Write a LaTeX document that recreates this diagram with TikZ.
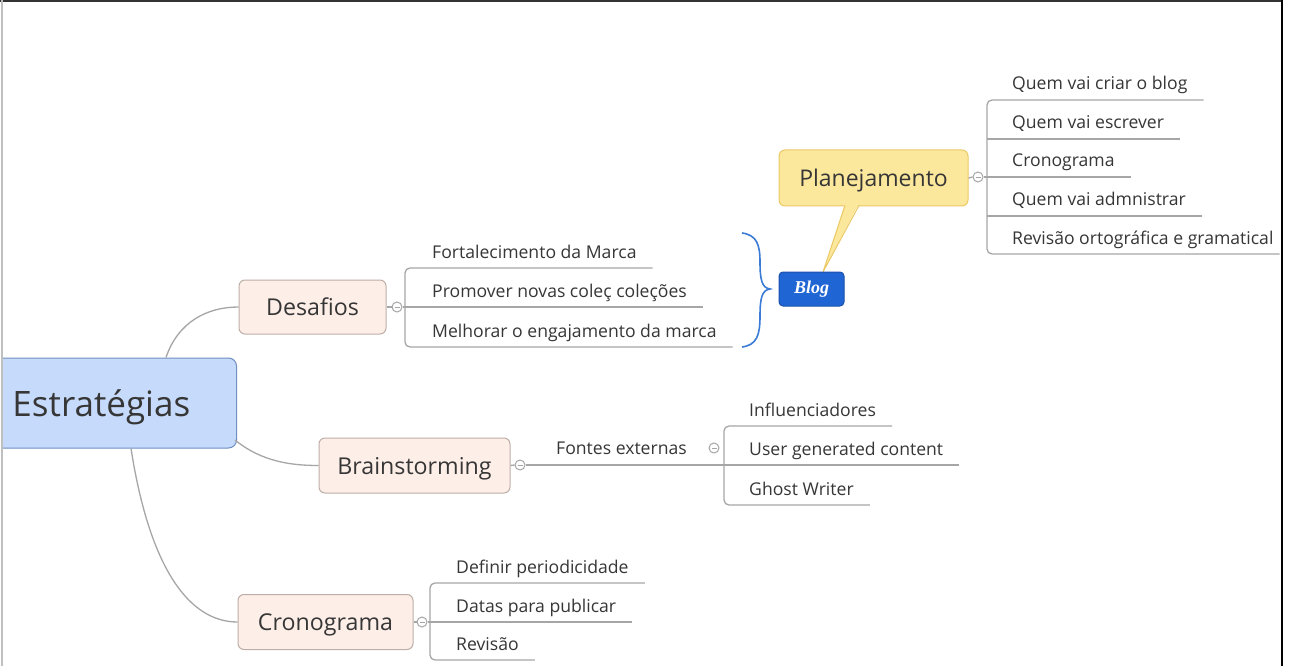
\documentclass[tikz,border=0pt]{standalone}
\usepackage{fontspec}
\setmainfont{Open Sans}
\newfontfamily\blogfont{Liberation Serif}
\usetikzlibrary{calc}
\definecolor{linegray}{HTML}{A6A6A6}
\definecolor{txt}{HTML}{363636}
\definecolor{rootfill}{HTML}{C6DAFB}
\definecolor{rootborder}{HTML}{6F8FC0}
\definecolor{subfill}{HTML}{FDEEE8}
\definecolor{subborder}{HTML}{BDAEA8}
\definecolor{blogfill}{HTML}{1F65D3}
\definecolor{blogborder}{HTML}{1A52AE}
\definecolor{planfill}{HTML}{FCE89C}
\definecolor{planborder}{HTML}{EBC965}
\definecolor{bracecol}{HTML}{3A7BD5}
\tikzset{
  conn/.style={draw=linegray, line width=1.3pt},
  topicbox/.style={draw=subborder, fill=subfill, line width=1pt, rounded corners=6pt,
    inner sep=0pt, text=txt, text depth=0pt, font=\fontsize{23.2}{27}\selectfont},
  leaf/.style={anchor=base west, inner sep=0pt, text=txt, font=\fontsize{17.6}{20}\selectfont},
  marker/.style={circle, draw=linegray, fill=white, line width=1pt, minimum size=10pt,
    inner sep=0pt, path picture={\draw[linegray, line width=0.8pt]
      ($(path picture bounding box.center)+(-2.5,0)$) -- ($(path picture bounding box.center)+(2.5,0)$);}},
}
\begin{document}
\begin{tikzpicture}[x=1pt,y=-1pt]
\useasboundingbox (0,0) rectangle (1294,666);
\fill[white] (0,0) rectangle (1294,666);

% root
\begin{scope}
\clip (2,0) rectangle (1294,666);
\node[draw=rootborder, fill=rootfill, line width=1pt, rounded corners=8pt, anchor=west,
      text width=202pt, inner xsep=22pt, inner ysep=0pt, minimum height=90pt, align=left,
      text depth=0pt, text=txt, font=\fontsize{35}{40}\selectfont] (root) at (-10,403) {Estratégias};
\end{scope}

% main topics
\node[topicbox, minimum width=147pt, minimum height=54pt] (dsf) at (312.5,307) {Desafios};
\node[topicbox, minimum width=191pt, minimum height=55pt] (brs) at (414.5,465.5) {Brainstorming};
\node[topicbox, minimum width=175pt, minimum height=55pt] (cro) at (325.5,622) {Cronograma};

% root connectors
\draw[conn] ($(root.north east)+(-71,0)$) .. controls (178,322) and (207,307) .. (dsf.west);
\draw[conn] ($(root.east)+(-2,37)$) .. controls (262,462) and (292,465.5) .. (brs.west);
\draw[conn] ($(root.south east)+(-106,0)$) .. controls (150,570) and (190,622) .. (cro.west);

% Desafios children
\node[marker] (dsfm) at (397,307) {};
\coordinate (dsfb) at (405,307);
\node[leaf] (d1) at (432,258) {Fortalecimento da Marca};
\node[leaf] (d2) at (432,297) {Promover novas coleç coleções};
\node[leaf] (d3) at (432,337) {Melhorar o engajamento da marca};
\coordinate (d1e) at ($(d1.base east)+(16,10)$);
\coordinate (d2e) at ($(d2.base east)+(16,10)$);
\coordinate (d3e) at ($(d3.base east)+(16,10)$);
\draw[conn] (dsf.east) -- (dsfm.west);
\draw[conn] (dsfm.east) -- (d2e);
\draw[conn, rounded corners=5pt] (d1e) -- (dsfb |- d1e) -- (dsfb |- d3e) -- (d3e);

% brace
\coordinate (brtop) at (742,233);
\coordinate (brtip) at (770,289);
\coordinate (brbot) at (742,347);
\draw[bracecol, line width=1.6pt] (brtop) .. controls (757,235) and (760,245) .. (760,262)
   .. controls (760,280) and (762,288) .. (brtip)
   .. controls (762,290) and (760,298) .. (760,316)
   .. controls (760,335) and (757,345) .. (brbot);

% Planejamento callout
\node[draw=planborder, fill=planfill, line width=1pt, rounded corners=6pt, inner sep=0pt,
      minimum width=189pt, minimum height=56pt, text=txt, text depth=0pt,
      font=\fontsize{23}{26}\selectfont]
      (plan) at (873.5,178) {Planejamento};
\coordinate (tailL) at (845,205.5);
\coordinate (tailR) at (859,205.5);
\coordinate (tailT) at (823,272);
\fill[planfill] ($(tailL)+(0,-2)$) -- (tailT) -- ($(tailR)+(0,-2)$) -- cycle;
\draw[planborder, line width=1pt] (tailL) -- (tailT) -- (tailR);

% Blog
\node[draw=blogborder, fill=blogfill, line width=1pt, rounded corners=4pt, inner sep=0pt,
      minimum width=65pt, minimum height=34pt, text=white,
      font=\blogfont\bfseries\itshape\fontsize{18}{20}\selectfont] (blog) at (811.5,289) {Blog};

% Planejamento children
\node[marker] (planm) at (978,177) {};
\coordinate (planb) at (987,177);
\node[leaf] (p1) at (1012,90) {Quem vai criar o blog};
\node[leaf] (p2) at (1012,129) {Quem vai escrever};
\node[leaf] (p3) at (1012,167) {Cronograma};
\node[leaf] (p4) at (1012,206) {Quem vai admnistrar};
\node[leaf] (p5) at (1012,244) {Revisão ortográfica e gramatical};
\coordinate (p1e) at ($(p1.base east)+(16,10)$);
\coordinate (p2e) at ($(p2.base east)+(16,10)$);
\coordinate (p3e) at ($(p3.base east)+(16,10)$);
\coordinate (p4e) at ($(p4.base east)+(16,10)$);
\coordinate (p5e) at ($(p5.base east)+(6,10)$);
\draw[conn] (plan.east) -- (planm.west);
\draw[conn] (planm.east) -- (p3e);
\draw[conn] (planb |- p2e) -- (p2e);
\draw[conn] (planb |- p4e) -- (p4e);
\draw[conn, rounded corners=5pt] (p1e) -- (planb |- p1e) -- (planb |- p5e) -- (p5e);

% Brainstorming children
\node[marker] (brsm) at (520,465) {};
\node[leaf] (fe) at (556,454) {Fontes externas};
\node[marker] (fem) at (714,448) {};
\coordinate (brsb) at (724,465);
\node[leaf] (b1) at (749,416) {Influenciadores};
\node[leaf] (b2) at (749,455) {User generated content};
\node[leaf] (b3) at (749,495) {Ghost Writer};
\coordinate (b1e) at ($(b1.base east)+(16,10)$);
\coordinate (b2e) at ($(b2.base east)+(16,10)$);
\coordinate (b3e) at ($(b3.base east)+(16,10)$);
\draw[conn] (brs.east) -- (brsm.west);
\draw[conn] (brsm.east) -- (b2e);
\draw[conn, rounded corners=5pt] (b1e) -- (brsb |- b1e) -- (brsb |- b3e) -- (b3e);

% Cronograma children
\node[marker] (crom) at (422,622) {};
\coordinate (crob) at (430,622);
\node[leaf] (c1) at (456,573) {Definir periodicidade};
\node[leaf] (c2) at (456,612) {Datas para publicar};
\node[leaf] (c3) at (456,650) {Revisão};
\coordinate (c1e) at ($(c1.base east)+(16,10)$);
\coordinate (c2e) at ($(c2.base east)+(16,10)$);
\coordinate (c3e) at ($(c3.base east)+(16,10)$);
\draw[conn] (cro.east) -- (crom.west);
\draw[conn] (crom.east) -- (c2e);
\draw[conn, rounded corners=5pt] (c1e) -- (crob |- c1e) -- (crob |- c3e) -- (c3e);

% frame
\draw[black!80, line width=1.5pt] (0,1) -- (1283,1);
\draw[black!25, line width=1.5pt] (2,0) -- (2,666);
\draw[black, line width=2.5pt] (1282,0) -- (1282,666);
\end{tikzpicture}
\end{document}
